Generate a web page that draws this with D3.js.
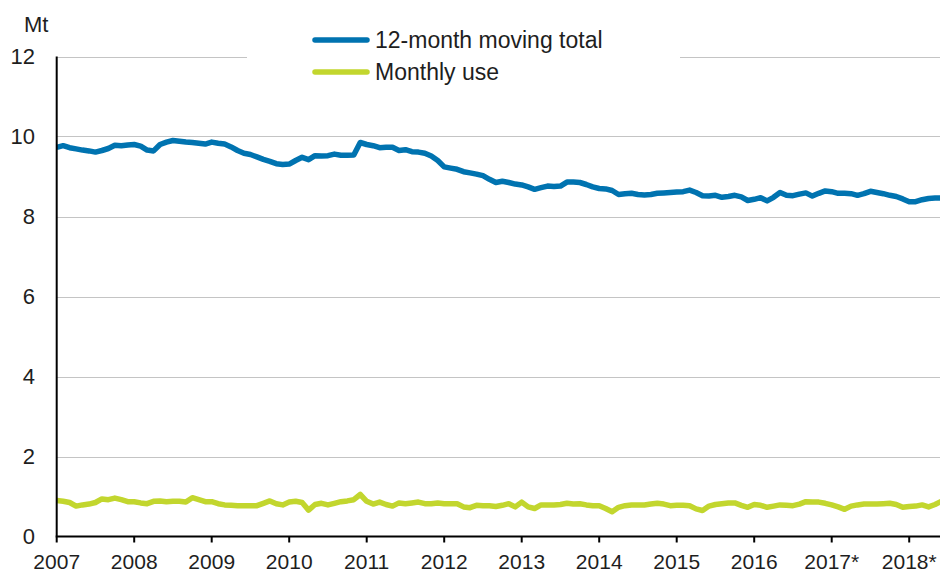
<!DOCTYPE html>
<html>
<head>
<meta charset="utf-8">
<script src="https://cdn.jsdelivr.net/npm/d3@7"></script>
<style>
  body { margin: 0; background: #fff; }
  svg text { font-family: "Liberation Sans", Arial, sans-serif; fill: #1e1e1e; }
</style>
</head>
<body>
<svg id="chart"></svg>
<script>
var width = 940,
    height = 574;

// monthly values, Jan 2007 onwards (Mt)
var movingTotal = [
  9.73, 9.77, 9.72, 9.69, 9.66, 9.64, 9.61, 9.65, 9.70, 9.78, 9.77, 9.79,
  9.80, 9.76, 9.66, 9.64, 9.80, 9.86, 9.90, 9.88, 9.86, 9.85, 9.83, 9.81,
  9.86, 9.83, 9.81, 9.74, 9.65, 9.58, 9.55, 9.49, 9.43, 9.38, 9.32, 9.30,
  9.31, 9.40, 9.48, 9.42, 9.52, 9.51, 9.52, 9.56, 9.53, 9.53, 9.54, 9.85,
  9.80, 9.77, 9.72, 9.73, 9.73, 9.65, 9.67, 9.62, 9.61, 9.58, 9.51, 9.40,
  9.24, 9.21, 9.18, 9.12, 9.09, 9.06, 9.02, 8.93, 8.85, 8.88, 8.85, 8.81,
  8.79, 8.74, 8.68, 8.72, 8.76, 8.75, 8.76, 8.86, 8.86, 8.85, 8.80, 8.74,
  8.70, 8.69, 8.65, 8.55, 8.57, 8.58, 8.55, 8.54, 8.55, 8.58, 8.59, 8.60,
  8.61, 8.62, 8.66, 8.60, 8.52, 8.51, 8.53, 8.48, 8.50, 8.53, 8.49, 8.40,
  8.43, 8.47, 8.39, 8.48, 8.60, 8.53, 8.52, 8.56, 8.59, 8.51, 8.58, 8.64,
  8.62, 8.58, 8.58, 8.57, 8.53, 8.57, 8.63, 8.60, 8.57, 8.53, 8.50, 8.44,
  8.37, 8.37, 8.42, 8.45, 8.46, 8.46
];

var monthlyUse = [
  0.90, 0.88, 0.85, 0.76, 0.79, 0.81, 0.85, 0.94, 0.92, 0.96, 0.92, 0.87,
  0.87, 0.84, 0.82, 0.88, 0.89, 0.87, 0.88, 0.88, 0.86, 0.97, 0.92, 0.87,
  0.87, 0.82, 0.79, 0.78, 0.77, 0.77, 0.77, 0.77, 0.83, 0.89, 0.82, 0.79,
  0.86, 0.88, 0.85, 0.66, 0.80, 0.83, 0.79, 0.83, 0.87, 0.89, 0.92, 1.05,
  0.88, 0.81, 0.86, 0.80, 0.76, 0.84, 0.82, 0.84, 0.86, 0.82, 0.82, 0.84,
  0.82, 0.82, 0.82, 0.74, 0.72, 0.78, 0.77, 0.77, 0.75, 0.78, 0.82, 0.74,
  0.86, 0.74, 0.70, 0.79, 0.79, 0.79, 0.80, 0.83, 0.81, 0.82, 0.79, 0.77,
  0.77, 0.70, 0.62, 0.73, 0.77, 0.79, 0.79, 0.79, 0.81, 0.83, 0.81, 0.77,
  0.78, 0.78, 0.77, 0.69, 0.65, 0.76, 0.80, 0.82, 0.84, 0.84, 0.78, 0.73,
  0.80, 0.78, 0.73, 0.76, 0.79, 0.78, 0.77, 0.81, 0.87, 0.86, 0.86, 0.83,
  0.79, 0.74, 0.68, 0.76, 0.79, 0.81, 0.81, 0.81, 0.82, 0.83, 0.80, 0.73,
  0.75, 0.76, 0.79, 0.74, 0.80, 0.88
];

var years = [2007, 2008, 2009, 2010, 2011, 2012, 2013, 2014, 2015, 2016, 2017, 2018];
var yearLabels = ['2007', '2008', '2009', '2010', '2011', '2012', '2013', '2014', '2015', '2016', '2017*', '2018*'];
var yTicks = [0, 2, 4, 6, 8, 10, 12];
var seriesNames = ['12-month moving total', 'Monthly use'];
var seriesColors = ['#0073b0', '#c2d62e'];

var x = d3.scaleLinear()
  .domain([2007, 2007 + 137 / 12])
  .range([56.7, 941.5]);

var y = d3.scaleLinear()
  .domain([0, 12])
  .range([536.5, 56.5]);

var svg = d3.select('#chart')
  .attr('width', width)
  .attr('height', height);

// gridlines
svg.append('g')
  .selectAll('line')
  .data(yTicks.filter(d => d > 0))
  .join('line')
  .attr('x1', x(2007))
  .attr('x2', width)
  .attr('y1', d => Math.round(y(d)) + 0.5)
  .attr('y2', d => Math.round(y(d)) + 0.5)
  .style('stroke', '#c4c4c4')
  .style('stroke-width', 1.2);

// y labels
svg.append('g')
  .selectAll('text')
  .data(yTicks)
  .join('text')
  .attr('x', 35)
  .attr('y', d => y(d))
  .attr('dy', '0.36em')
  .attr('text-anchor', 'end')
  .style('font-size', '22px')
  .text(d => d);

svg.append('text')
  .attr('x', 24)
  .attr('y', 32)
  .style('font-size', '22px')
  .text('Mt');

// lines
var line = d3.line()
  .x((d, i) => x(2007 + i / 12))
  .y(d => y(d));

[movingTotal, monthlyUse].forEach(function(series, k) {
  svg.append('path')
    .datum(series)
    .attr('d', line)
    .style('fill', 'none')
    .style('stroke', seriesColors[k])
    .style('stroke-width', 5.5)
    .style('stroke-linejoin', 'round');
});

// axes
svg.append('line')
  .attr('x1', x(2007)).attr('x2', x(2007))
  .attr('y1', y(12)).attr('y2', y(0))
  .style('stroke', '#000')
  .style('stroke-width', 2);

svg.append('line')
  .attr('x1', x(2007) - 1).attr('x2', width)
  .attr('y1', y(0)).attr('y2', y(0))
  .style('stroke', '#000')
  .style('stroke-width', 2);

var xt = svg.append('g')
  .selectAll('g')
  .data(years)
  .join('g')
  .attr('transform', d => 'translate(' + x(d) + ',0)');

xt.append('line')
  .attr('y1', y(0)).attr('y2', y(0) + 6)
  .style('stroke', '#000')
  .style('stroke-width', 2);

xt.append('text')
  .attr('y', 569)
  .attr('text-anchor', 'middle')
  .style('font-size', '21px')
  .text((d, i) => yearLabels[i]);

// legend
svg.append('rect')
  .attr('x', 247)
  .attr('y', 50)
  .attr('width', 433)
  .attr('height', 14)
  .style('fill', '#fff');

var legend = svg.append('g')
  .selectAll('g')
  .data(seriesNames)
  .join('g')
  .attr('transform', (d, i) => 'translate(313,' + (40 + i * 32) + ')');

legend.append('line')
  .attr('x1', 2).attr('x2', 54)
  .style('stroke', (d, i) => seriesColors[i])
  .style('stroke-width', 5.5)
  .style('stroke-linecap', 'round');

legend.append('text')
  .attr('x', 62)
  .attr('y', 8)
  .style('font-size', '23px')
  .text(d => d);
</script>
</body>
</html>
